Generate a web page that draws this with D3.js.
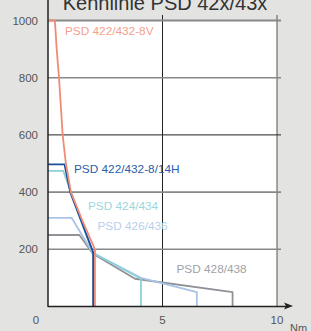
<!DOCTYPE html>
<html><head><meta charset="utf-8">
<script src="https://cdn.jsdelivr.net/npm/d3@7"></script>
<style>html,body{margin:0;padding:0;background:#e3e3e2;}svg{display:block;}</style>
</head><body>
<script>
const titleText = "Kennlinie PSD 42x/43x";
const yTicks = [200, 400, 600, 800, 1000];
const xTicks = [5, 10];
const unitLabel = "Nm";
const seriesNames = ["PSD 428/438", "PSD 426/436", "PSD 424/434", "PSD 422/432-8/14H", "PSD 422/432-8V"];
const s428 = [[0,250],[1.37,250],[1.95,185],[3.8,97],[8.06,50],[8.06,0]];
const s426 = [[0,310],[1.03,310],[1.95,188],[4.06,100],[6.5,50],[6.5,0]];
const s424 = [[0,474],[0.67,474],[1.0,400],[1.95,188],[4.06,97],[4.06,0]];
const s422H = [[0,497],[0.72,497],[0.97,400],[1.97,190],[1.97,0]];
const s422V = [[0,1000],[0.3,1000],[0.38,900],[0.48,800],[0.56,700],[0.64,600],[0.78,500],[1.0,400],[1.5,300],[2.05,200],[2.05,0]];

const W = 311, H = 331;
const svg = d3.select("body").append("svg").attr("width", W).attr("height", H);
svg.append("rect").attr("width", W).attr("height", H).attr("fill", "#e3e3e2");
const x = d3.scaleLinear().domain([0, 10]).range([48, 277]);
const y = d3.scaleLinear().domain([0, 1000]).range([306.5, 20.5]);

svg.append("rect").attr("x", x(0)).attr("y", y(1000)).attr("width", x(10) - x(0)).attr("height", y(0) - y(1000)).attr("fill", "#fff");

const tf = "Liberation Sans, Arial, sans-serif";
// title
svg.append("text").attr("x", 165).attr("y", 10).attr("text-anchor", "middle")
  .attr("font-family", tf).attr("font-size", 20).attr("fill", "#333").text(titleText);

// vertical gridlines
svg.selectAll(".vg").data(xTicks).enter().append("line")
  .attr("x1", d => x(d)).attr("x2", d => x(d)).attr("y1", 15).attr("y2", y(0))
  .attr("stroke", d => d === 10 ? "#555" : "#222").attr("stroke-width", 1);

// horizontal gridlines
svg.selectAll(".hg").data(yTicks).enter().append("line")
  .attr("x1", x(0)).attr("x2", 281).attr("y1", d => y(d)).attr("y2", d => y(d))
  .attr("stroke", d => d === 600 ? "#222" : "#888").attr("stroke-width", d => d === 1000 ? 2.2 : (d === 600 ? 1 : 1.6));

// series
const colors = {"PSD 428/438": "#8f9296", "PSD 426/436": "#a9c3e6", "PSD 424/434": "#8ed0d8", "PSD 422/432-8/14H": "#1c4f9e", "PSD 422/432-8V": "#ef8c76"};
const labelColors = {"PSD 428/438": "#a0a2a6", "PSD 426/436": "#b8cfec", "PSD 424/434": "#9dd6dd", "PSD 422/432-8/14H": "#2b5dab", "PSD 422/432-8V": "#f3a18e"};
const data = [s428, s426, s424, s422H, s422V];
const line = d3.line().x(d => x(d[0])).y(d => y(d[1]));
data.forEach((s, i) => {
  svg.append("path").attr("d", line(s)).attr("fill", "none")
    .attr("stroke", colors[seriesNames[i]]).attr("stroke-width", 1.8).attr("stroke-linejoin", "round");
});

// axes
svg.append("line").attr("x1", x(0)).attr("x2", x(0)).attr("y1", 0).attr("y2", y(0) + 0.5).attr("stroke", "#222").attr("stroke-width", 1.5);
svg.append("line").attr("x1", x(0)).attr("x2", 288).attr("y1", y(0)).attr("y2", y(0)).attr("stroke", "#222").attr("stroke-width", 1.5);
svg.append("path").attr("d", `M293,${y(0)-0.5} L284,${y(0)-4} L286,${y(0)-0.5} L284,${y(0)+3} Z`).attr("fill", "#222");

// tick labels
svg.selectAll(".yl").data(yTicks).enter().append("text")
  .attr("x", 38).attr("y", d => y(d) + 4).attr("text-anchor", "end")
  .attr("font-family", tf).attr("font-size", 11.5).attr("fill", "#555").text(d => d);
svg.append("text").attr("x", 36).attr("y", 324).attr("text-anchor", "middle")
  .attr("font-family", tf).attr("font-size", 11.5).attr("fill", "#555").text("0");
svg.selectAll(".xl").data(xTicks).enter().append("text")
  .attr("x", d => x(d)).attr("y", 324).attr("text-anchor", "middle")
  .attr("font-family", tf).attr("font-size", 11.5).attr("fill", "#555").text(d => d);
svg.append("text").attr("x", 290).attr("y", 332).attr("font-family", tf).attr("font-size", 11).attr("fill", "#555").text(unitLabel);

// series labels
const labelPos = {"PSD 422/432-8V": [65, 34.5], "PSD 422/432-8/14H": [74, 172.5], "PSD 424/434": [88, 210], "PSD 426/436": [97.5, 230], "PSD 428/438": [176.5, 273]};
seriesNames.forEach(n => {
  svg.append("text").attr("x", labelPos[n][0]).attr("y", labelPos[n][1])
    .attr("font-family", tf).attr("font-size", 11.8).attr("fill", labelColors[n]).text(n);
});
</script>
</body></html>
